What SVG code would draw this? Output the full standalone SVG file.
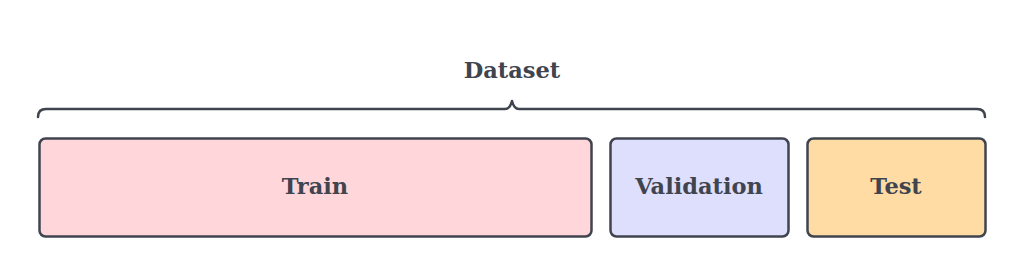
<svg xmlns="http://www.w3.org/2000/svg" width="1024" height="276" viewBox="0 0 1024 276">
<style>
.box{stroke:#40444f;stroke-width:2.5}
.lbl{font-family:"DejaVu Serif","Liberation Serif",serif;font-weight:bold;font-size:22.5px;fill:#40444f;text-anchor:middle;dominant-baseline:central}
</style>
<rect width="1024" height="276" fill="#ffffff"/>
<g id="connectors">
<path d="M38,117 Q38,109 46,109 L505,109 Q510,109 512,101 Q514,109 519,109 L977,109 Q985,109 985,117" fill="none" stroke="#40444f" stroke-width="2.5" stroke-linecap="round" stroke-linejoin="round"/>
</g>
<g id="dataset"><text class="lbl" x="512" y="70">Dataset</text></g>
<g id="train"><rect class="box" x="39.5" y="138.5" width="552" height="98" rx="6" fill="#ffd7da"/><text class="lbl" x="315" y="186">Train</text></g>
<g id="validation"><rect class="box" x="610.5" y="138.5" width="178" height="98" rx="6" fill="#dedefd"/><text class="lbl" x="699" y="186">Validation</text></g>
<g id="test"><rect class="box" x="807.5" y="138.5" width="178" height="98" rx="6" fill="#fedca3"/><text class="lbl" x="896" y="186">Test</text></g>
</svg>
